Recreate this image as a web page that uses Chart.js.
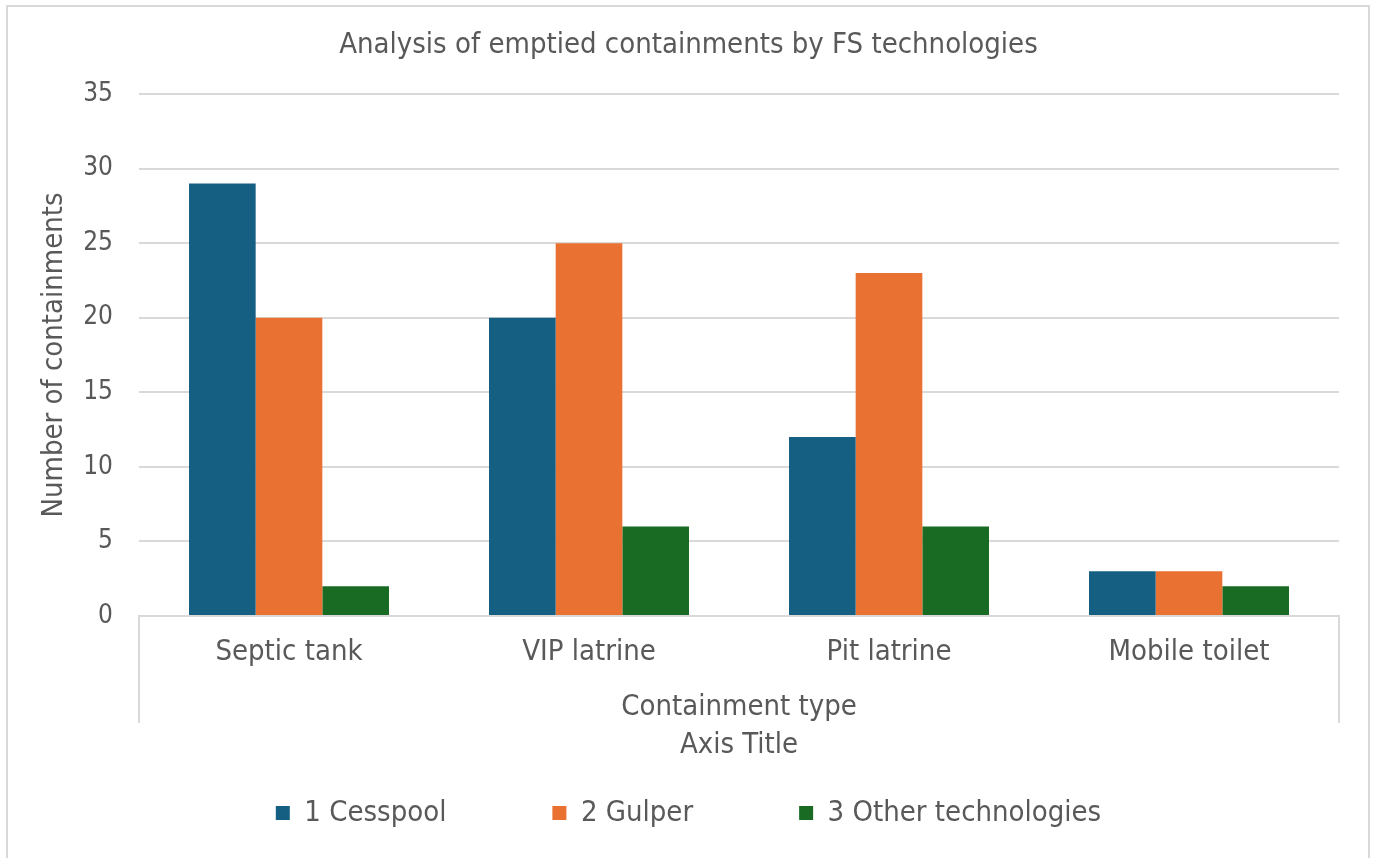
<!DOCTYPE html>
<html>
<head>
<meta charset="utf-8">
<title>Analysis of emptied containments by FS technologies</title>
<script src="https://cdn.jsdelivr.net/npm/chart.js@4.4.1/dist/chart.umd.min.js"></script>
<style>
  html, body { margin: 0; padding: 0; background: #ffffff; }
  canvas { display: block; }
</style>
</head>
<body>
<canvas id="chart" width="1377" height="858"></canvas>
<script>
// Containment types on the category axis
const categories = ['Septic tank', 'VIP latrine', 'Pit latrine', 'Mobile toilet'];

// Number of emptied containments per emptying technology
const cesspool = [29, 20, 12, 3];
const gulper = [20, 25, 23, 3];
const otherTech = [2, 6, 6, 2];

const seriesNames = ['1 Cesspool', '2 Gulper', '3 Other technologies'];
const seriesColors = ['#156082', '#E97132', '#196B24'];

// Value axis ticks
const yMin = 0;
const yMax = 35;
const yStep = 5;

const chartTitle = 'Analysis of emptied containments by FS technologies';
const yTitle = 'Number of containments';
const xTitleLines = ['Containment type', 'Axis Title'];

const TEXT = '#595959';
const LINE = '#d9d9d9';

Chart.defaults.font.family = "'DejaVu Sans Condensed', 'DejaVu Sans', sans-serif";
Chart.defaults.color = TEXT;

// Outer chart border plus the framed category-axis box below the plot
const framePlugin = {
  id: 'frame',
  beforeDraw(chart) {
    const ctx = chart.ctx;
    ctx.save();
    ctx.fillStyle = '#ffffff';
    ctx.fillRect(0, 0, chart.width, chart.height);
    ctx.strokeStyle = LINE;
    ctx.lineWidth = 2;
    ctx.strokeRect(7, 6, chart.width - 15, chart.height + 20);
    ctx.restore();
  },
  afterDraw(chart) {
    const {ctx, chartArea} = chart;
    const depth = 107;
    ctx.save();
    ctx.strokeStyle = LINE;
    ctx.lineWidth = 2;
    ctx.beginPath();
    ctx.moveTo(chartArea.left, chartArea.bottom);
    ctx.lineTo(chartArea.left, chartArea.bottom + depth);
    ctx.moveTo(chartArea.right, chartArea.bottom);
    ctx.lineTo(chartArea.right, chartArea.bottom + depth);
    ctx.stroke();
    ctx.restore();
  }
};

const data = {
  labels: categories,
  datasets: [
    { label: seriesNames[0], data: cesspool, backgroundColor: seriesColors[0] },
    { label: seriesNames[1], data: gulper, backgroundColor: seriesColors[1] },
    { label: seriesNames[2], data: otherTech, backgroundColor: seriesColors[2] }
  ]
};

new Chart(document.getElementById('chart'), {
  type: 'bar',
  data: data,
  plugins: [framePlugin],
  options: {
    responsive: false,
    animation: false,
    devicePixelRatio: 1,
    layout: { padding: { left: 0, right: 0, top: 0, bottom: 20.5 } },
    datasets: {
      bar: { categoryPercentage: 2 / 3, barPercentage: 1, borderWidth: 0 }
    },
    plugins: {
      title: {
        display: true,
        text: chartTitle,
        color: TEXT,
        font: { size: 29, weight: 'normal' },
        padding: { top: 27.6, bottom: 31.6 }
      },
      legend: {
        display: true,
        position: 'bottom',
        labels: {
          boxWidth: 14,
          boxHeight: 14,
          padding: 106,
          color: TEXT,
          font: { size: 29 }
        }
      },
      tooltip: { enabled: false }
    },
    scales: {
      x: {
        grid: { display: false, drawTicks: false },
        border: { display: true, color: LINE, width: 2 },
        ticks: { color: TEXT, font: { size: 29 }, padding: 18.6 },
        title: {
          display: true,
          text: xTitleLines,
          color: TEXT,
          font: { size: 29, lineHeight: 38 / 29 },
          padding: { top: 0, bottom: -71.5 }
        },
        afterFit(scale) { scale.height = 76.5; }
      },
      y: {
        min: yMin,
        max: yMax,
        grid: { color: LINE, lineWidth: 2, drawTicks: false },
        border: { display: false },
        ticks: { stepSize: yStep, color: TEXT, font: { size: 26 }, padding: 26 },
        title: {
          display: true,
          text: yTitle,
          color: TEXT,
          font: { size: 29 },
          padding: { top: 36.6, bottom: 0 }
        },
        afterFit(scale) { scale.width = 139; }
      },
      yRight: {
        position: 'right',
        display: true,
        grid: { display: false, drawTicks: false },
        border: { display: false },
        ticks: { display: false },
        afterFit(scale) { scale.width = 38; }
      }
    }
  }
});
</script>
</body>
</html>
